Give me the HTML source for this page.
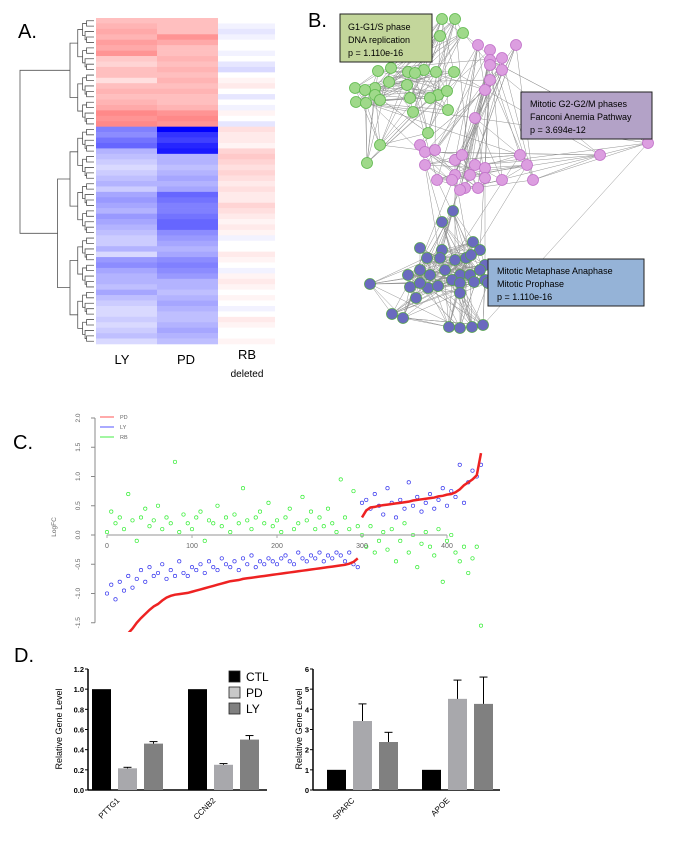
<!DOCTYPE html>
<html><head><meta charset="utf-8"><style>
html,body{margin:0;padding:0;background:#fff;}
svg{display:block;font-family:"Liberation Sans",sans-serif;}
</style></head><body>
<svg id="fig" width="699" height="850" viewBox="0 0 699 850">
<text x="18" y="38" font-size="20">A.</text>
<text x="308" y="27" font-size="20">B.</text>
<text x="13" y="449" font-size="20">C.</text>
<text x="14" y="662" font-size="20">D.</text>
<g id="heat"></g>
<g id="dendro"></g>
<text x="122" y="364" font-size="13" text-anchor="middle">LY</text>
<text x="186" y="364" font-size="13" text-anchor="middle">PD</text>
<text x="247" y="359" font-size="13" text-anchor="middle">RB</text>
<text x="247" y="377" font-size="10" text-anchor="middle">deleted</text>
<g id="net"></g>
<g><rect x="340" y="14" width="92" height="48" fill="#c3d69b" stroke="#222" stroke-width="1"/>
<text x="348" y="30" font-size="9">G1-G1/S phase</text><text x="348" y="43" font-size="9">DNA replication</text><text x="348" y="56" font-size="9">p = 1.110e-16</text></g>
<g><rect x="521" y="92" width="131" height="47" fill="#b3a2c7" stroke="#222" stroke-width="1"/>
<text x="530" y="107" font-size="9">Mitotic G2-G2/M phases</text><text x="530" y="120" font-size="9">Fanconi Anemia Pathway</text><text x="530" y="133" font-size="9">p = 3.694e-12</text></g>
<g><rect x="488" y="259" width="156" height="47" fill="#95b3d7" stroke="#222" stroke-width="1"/>
<text x="497" y="274" font-size="9">Mitotic Metaphase Anaphase</text><text x="497" y="287" font-size="9">Mitotic Prophase</text><text x="497" y="300" font-size="9">p = 1.110e-16</text></g>
<g id="scatter"></g>
<g id="barL"></g>
<g id="barR"></g>
</svg>
<script>
// Heatmap data
const hmLY=[0.3,0.35,0.4,0.35,0.45,0.4,0.5,0.25,0.2,0.3,0.3,0.15,0.3,0.35,0.3,0.35,0.4,0.55,0.5,0.55,-0.5,-0.45,-0.55,-0.6,-0.3,-0.25,-0.2,-0.15,-0.2,-0.25,-0.3,-0.2,-0.35,-0.4,-0.35,-0.3,-0.4,-0.35,-0.3,-0.25,-0.2,-0.2,-0.3,-0.15,-0.4,-0.45,-0.35,-0.3,-0.3,-0.25,-0.35,-0.25,-0.2,-0.15,-0.15,-0.2,-0.15,-0.2,-0.25,-0.15];
const hmPD=[0.3,0.3,0.3,0.5,0.4,0.3,0.3,0.35,0.3,0.35,0.3,0.35,0.3,0.35,0.3,0.3,0.35,0.5,0.55,0.5,-1.0,-0.8,-0.75,-0.85,-0.9,-0.3,-0.3,-0.25,-0.3,-0.35,-0.3,-0.35,-0.6,-0.55,-0.5,-0.5,-0.55,-0.6,-0.6,-0.45,-0.4,-0.35,-0.3,-0.35,-0.45,-0.5,-0.45,-0.4,-0.3,-0.3,-0.25,-0.3,-0.35,-0.3,-0.25,-0.25,-0.3,-0.35,-0.3,-0.25];
const hmRB=[0,-0.05,-0.1,-0.05,0,0,-0.05,0,-0.1,-0.15,0,0.05,0.1,0,-0.1,0,-0.05,0.05,0,-0.1,0.15,0.1,0.1,0.05,0.2,0.25,0.2,0.15,0.2,0.15,0.1,0.15,0.1,0.1,0.2,0.15,0.1,0.05,0.1,0.05,-0.05,0,0,0.1,0.05,0,-0.05,0.05,0.1,0.05,0,0.05,0,-0.05,0,0.1,0.05,0,0,0.05];
// Scatter data (sampled every 5 genes)
const step=5;
const redPD=[-2.3,-2.1,-1.95,-1.85,-1.75,-1.68,-1.6,-1.5,-1.42,-1.35,-1.28,-1.22,-1.18,-1.12,-1.07,-1.04,-1.02,-1.01,-1.0,-0.99,-0.97,-0.95,-0.93,-0.91,-0.89,-0.87,-0.85,-0.83,-0.81,-0.79,-0.78,-0.77,-0.75,-0.74,-0.73,-0.72,-0.71,-0.70,-0.69,-0.68,-0.67,-0.66,-0.65,-0.64,-0.63,-0.62,-0.61,-0.60,-0.59,-0.58,-0.57,-0.56,-0.55,-0.54,-0.53,-0.52,-0.51,-0.49,-0.46,-0.40,0.30,0.42,0.47,0.48,0.50,0.51,0.52,0.53,0.54,0.55,0.56,0.57,0.59,0.60,0.61,0.62,0.63,0.64,0.66,0.67,0.69,0.70,0.73,0.78,0.85,0.90,0.95,1.02,1.4];
const blueLY=[-1.0,-0.85,-1.1,-0.8,-0.95,-0.7,-0.9,-0.75,-0.6,-0.8,-0.55,-0.7,-0.65,-0.5,-0.75,-0.6,-0.7,-0.45,-0.65,-0.7,-0.55,-0.6,-0.5,-0.65,-0.45,-0.55,-0.6,-0.4,-0.5,-0.55,-0.45,-0.6,-0.4,-0.5,-0.35,-0.55,-0.45,-0.5,-0.4,-0.45,-0.5,-0.4,-0.35,-0.45,-0.5,-0.3,-0.4,-0.45,-0.35,-0.4,-0.3,-0.45,-0.35,-0.4,-0.3,-0.35,-0.45,-0.3,-0.5,-0.55,0.55,0.6,0.45,0.7,0.5,0.35,0.8,0.55,0.3,0.6,0.45,0.9,0.5,0.65,0.4,0.55,0.7,0.45,0.6,0.8,0.5,0.75,0.65,1.2,0.55,0.9,1.1,1.0,1.2];
const greenRB=[0.05,0.4,0.2,0.3,0.1,0.7,0.25,-0.1,0.3,0.45,0.15,0.25,0.5,0.1,0.3,0.2,1.25,0.05,0.35,0.2,0.1,0.3,0.4,-0.1,0.25,0.2,0.5,0.15,0.3,0.05,0.35,0.2,0.8,0.25,0.1,0.3,0.4,0.2,0.55,0.15,0.25,0.05,0.3,0.45,0.1,0.2,0.65,0.25,0.4,0.1,0.3,0.15,0.45,0.2,0.05,0.95,0.3,0.1,0.75,0.15,0.0,-0.2,0.15,-0.3,-0.1,0.05,-0.25,0.1,-0.45,-0.1,0.2,-0.3,0.0,-0.55,-0.15,0.05,-0.2,-0.35,0.1,-0.8,-0.1,0.0,-0.3,-0.45,-0.2,-0.65,-0.4,-0.2,-1.55];
const cTicksY=[-1.5,-1.0,-0.5,0.0,0.5,1.0,1.5,2.0];
const cTicksX=[0,100,200,300,400];
// Bar data
const genesL=["PTTG1","CCNB2"];
const ctlL=[1.0,1.0], pdL=[0.215,0.25], lyL=[0.46,0.5];
const pdErrL=[0.01,0.012], lyErrL=[0.02,0.04];
const ticksL=[0,0.2,0.4,0.6,0.8,1.0,1.2];
const genesR=["SPARC","APOE"];
const ctlR=[1,1], pdR=[3.42,4.52], lyR=[2.38,4.27];
const pdErrR=[0.85,0.93], lyErrR=[0.48,1.33];
const ticksR=[0,1,2,3,4,5,6];

const NS="http://www.w3.org/2000/svg";
function mk(tag,attrs,parent){const e=document.createElementNS(NS,tag);for(const k in attrs)e.setAttribute(k,attrs[k]);parent.appendChild(e);return e;}

// ---- Heatmap
const heat=document.getElementById('heat');
const hmTop=18,hmBot=344,rows=hmLY.length,rh=(hmBot-hmTop)/rows;
function hcol(v){if(v>=0){const c=Math.round(255-215*v);return `rgb(255,${c},${c})`;}const c=Math.round(255*(1+v));return `rgb(${Math.max(0,c)},${Math.max(0,c)},255)`;}
[[hmLY,96,61],[hmPD,157,61],[hmRB,218,57]].forEach(([arr,x,w])=>{
  arr.forEach((v,i)=>{const r=mk('rect',{x:x,y:hmTop+i*rh,width:w,height:rh+0.3,fill:hcol(v)},heat);
  
  });
});
// ---- Dendrogram
const dendro=document.getElementById('dendro');
function node(lo,hi,split){
  const size=hi-lo;
  if(size<=1){return {x:94,y:hmTop+(lo+0.5)*rh};}
  const mid=split!==undefined?split:lo+Math.floor(size/2);
  const a=node(lo,mid),b=node(mid,hi);
  const x=split!==undefined?20:93-42*Math.pow((size-1)/(rows-1),0.7)-4;
  mk('path',{d:`M${a.x},${a.y}H${x}V${b.y}H${b.x}`,fill:'none',stroke:'#555','stroke-width':0.8},dendro);
  return {x:x,y:(a.y+b.y)/2};
}
node(0,rows,20);

// ---- Network
const net=document.getElementById('net');
const gN=[[442,19],[455,19],[463,33],[440,36],[378,71],[391,68],[408,72],[424,70],[407,85],[375,88],[389,82],[355,88],[365,90],[375,95],[380,100],[356,102],[366,103],[410,98],[438,95],[447,91],[436,72],[454,72],[448,110],[413,112],[428,133],[380,145],[367,163],[430,98],[415,73]];
const pN=[[478,45],[490,50],[490,60],[502,58],[490,65],[502,70],[490,80],[485,90],[516,45],[475,118],[420,145],[425,152],[435,150],[425,165],[455,160],[462,155],[475,165],[455,175],[470,175],[485,168],[485,178],[437,180],[452,180],[465,188],[460,190],[478,188],[502,180],[520,155],[527,165],[533,180],[600,155],[648,143]];
const bN=[[453,211],[442,222],[473,242],[480,250],[442,250],[420,248],[427,258],[440,258],[455,260],[466,258],[471,255],[485,265],[480,270],[420,270],[430,275],[445,270],[460,275],[470,275],[485,280],[408,275],[410,287],[428,288],[438,286],[452,280],[460,283],[420,283],[370,284],[488,283],[474,282],[460,293],[416,298],[392,314],[403,318],[449,327],[460,328],[472,327],[483,325]];
const eg=mk('g',{stroke:'#777','stroke-width':0.5,opacity:0.8},net);
function edges(list,k,mult){for(let i=0;i<list.length;i++){for(let j=1;j<=k;j++){const t=list[(i*mult+j*7)%list.length];if(t===list[i])continue;mk('line',{x1:list[i][0],y1:list[i][1],x2:t[0],y2:t[1]},eg);}}}
edges(gN,4,3);edges(pN,3,5);edges(bN,5,3);
for(let i=0;i<14;i++){const a=gN[(i*5)%gN.length],b=pN[(i*3)%pN.length];mk('line',{x1:a[0],y1:a[1],x2:b[0],y2:b[1]},eg);
const c=pN[(i*7)%pN.length],d=bN[(i*4)%bN.length];mk('line',{x1:c[0],y1:c[1],x2:d[0],y2:d[1]},eg);}
[[gN,'#9fd98a','#5cb84a'],[pN,'#dc9ee0','#c070c8'],[bN,'#6a6abf','#55a050']].forEach(([l,f,s])=>{l.forEach(p=>{const c=mk('circle',{cx:p[0],cy:p[1],r:5.5,fill:f,stroke:s,'stroke-width':0.8},net);

});});

// ---- Scatter panel C
const sc=document.getElementById('scatter');
const xS=i=>107+i*(340/400), yS=v=>535-v*58.5;
mk('line',{x1:95,y1:yS(-1.5),x2:95,y2:yS(2.0),stroke:'#888','stroke-width':1},sc);
cTicksY.forEach(t=>{mk('line',{x1:91,y1:yS(t),x2:95,y2:yS(t),stroke:'#888'},sc);
const tx=mk('text',{x:0,y:0,'font-size':6.5,fill:'#666','text-anchor':'middle',transform:`translate(80,${yS(t)}) rotate(-90)`},sc);tx.textContent=t.toFixed(1);

});
const yl=mk('text',{'font-size':6.5,fill:'#666','text-anchor':'middle',transform:'translate(56,527) rotate(-90)'},sc);yl.textContent='LogFC';


const cp=mk('clipPath',{id:'cclip'},sc);mk('rect',{x:96,y:410,width:400,height:222},cp);
const pts=mk('g',{'clip-path':'url(#cclip)'},sc);
greenRB.forEach((v,i)=>{const c=mk('circle',{cx:xS(i*step),cy:yS(v),r:1.7,fill:'none',stroke:'#33ee33','stroke-width':0.7},pts);

});
blueLY.forEach((v,i)=>{const c=mk('circle',{cx:xS(i*step),cy:yS(v),r:1.7,fill:'none',stroke:'#3333ee','stroke-width':0.7},pts);

});
let d1='',d2='';redPD.forEach((v,i)=>{const s=`${xS(i*step)},${yS(v)} `;if(i*step<300)d1+=s;else d2+=s;});
[d1,d2].forEach(d=>{const pl=mk('polyline',{points:d,fill:'none',stroke:'#ee2222','stroke-width':2.5},pts);

});
mk('line',{x1:xS(0),y1:yS(0),x2:xS(400),y2:yS(0),stroke:'#aaa','stroke-width':1.2},sc);
cTicksX.forEach(t=>{mk('line',{x1:xS(t),y1:yS(0),x2:xS(t),y2:yS(0)+3,stroke:'#aaa'},sc);
const tx=mk('text',{x:xS(t),y:yS(0)+13,'font-size':7,fill:'#666','text-anchor':'middle'},sc);tx.textContent=t;

});
[['PD','#ff5555',417],['LY','#5555ff',427],['RB','#44ee44',437]].forEach(([n,c,y])=>{
mk('line',{x1:100,y1:y,x2:114,y2:y,stroke:c,'stroke-width':1},sc);
const t=mk('text',{x:120,y:y+2,'font-size':5.5,fill:'#666'},sc);t.textContent=n;

});

// ---- Bar charts
function bars(g,x0,x1,max,ticks,genes,ctl,pd,ly,pdE,lyE,groupX,fmt,titleX){
  const y0=790,yT=669,ys=v=>y0-v*(y0-yT)/max;
  mk('line',{x1:x0,y1:yT,x2:x0,y2:y0,stroke:'#000','stroke-width':1.5},g);
  mk('line',{x1:x0,y1:y0,x2:x1,y2:y0,stroke:'#000','stroke-width':1.5},g);
  ticks.forEach(t=>{mk('line',{x1:x0-3,y1:ys(t),x2:x0,y2:ys(t),stroke:'#000','stroke-width':1},g);
  const tx=mk('text',{x:x0-4,y:ys(t)+3,'font-size':7.5,'font-weight':'bold','text-anchor':'end'},g);tx.textContent=fmt(t);
  
  });
  const yl=mk('text',{'font-size':9,'text-anchor':'middle',transform:`translate(${titleX},729) rotate(-90)`},g);yl.textContent='Relative Gene Level';
  
  
  genes.forEach((gn,i)=>{const gx=groupX[i];
    [[ctl[i],'#000',0,0],[pd[i],'#a8a8ac',26,pdE[i]],[ly[i],'#808080',52,lyE[i]]].forEach(([v,c,off,e])=>{
      const r=mk('rect',{x:gx+off,y:ys(v),width:19,height:y0-ys(v),fill:c},g);
      
      
      if(e){const cx=gx+off+9.5;mk('line',{x1:cx,y1:ys(v),x2:cx,y2:ys(v+e),stroke:'#000'},g);mk('line',{x1:cx-4,y1:ys(v+e),x2:cx+4,y2:ys(v+e),stroke:'#000'},g);}
    });
    const lt=mk('text',{'font-size':8,'text-anchor':'end',transform:`translate(${gx+28},801) rotate(-45)`},g);lt.textContent=gn;
    
    
  });
}
bars(document.getElementById('barL'),88,267,1.2,ticksL,genesL,ctlL,pdL,lyL,pdErrL,lyErrL,[92,188],t=>t.toFixed(1),62);
bars(document.getElementById('barR'),313,500,6,ticksR,genesR,ctlR,pdR,lyR,pdErrR,lyErrR,[327,422],t=>String(t),302);
const bl=document.getElementById('barL');
[['CTL','#000',671],['PD','#c8c8c8',687],['LY','#808080',703]].forEach(([n,c,y])=>{
mk('rect',{x:229,y:y,width:11,height:11,fill:c,stroke:'#222','stroke-width':0.8},bl);
const t=mk('text',{x:246,y:y+10,'font-size':12},bl);t.textContent=n;

});
</script>
</body></html>
